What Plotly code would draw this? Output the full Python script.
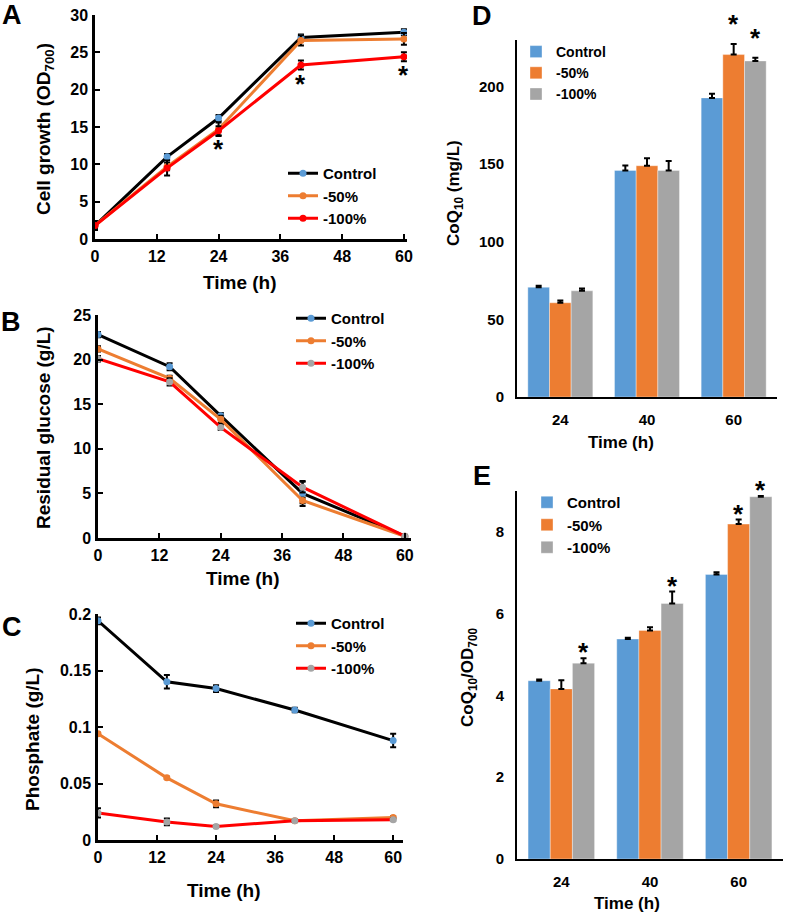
import plotly.graph_objects as go

W, H = 794, 920

# ---------------- data ----------------
series_names = ["Control", "-50%", "-100%"]
times = [0, 14, 24, 40, 60]
time_ticks = [0, 12, 24, 36, 48, 60]

growth_ctrl = [1.8, 11.0, 16.2, 27.0, 27.7]
growth_ctrl_err = [0.6, 0.4, 0.4, 0.4, 0.4]
growth_50 = [1.8, 9.7, 14.7, 26.6, 26.8]
growth_50_err = [0.3, 0.5, 0.9, 0.7, 0.8]
growth_100 = [1.8, 9.5, 14.5, 23.3, 24.4]
growth_100_err = [0.3, 1.0, 0.6, 0.6, 0.6]
growth_sig_100 = [False, False, True, True, True]

glucose_ctrl = [22.8, 19.2, 13.7, 5.0, 0.2]
glucose_ctrl_err = [0.3, 0.4, 0.3, 1.4, 0.1]
glucose_50 = [21.2, 17.9, 13.3, 4.2, 0.2]
glucose_50_err = [0.3, 0.3, 0.4, 0.3, 0.1]
glucose_100 = [20.1, 17.5, 12.4, 5.7, 0.2]
glucose_100_err = [0.3, 0.4, 0.3, 0.6, 0.1]

phos_ctrl = [0.194, 0.140, 0.134, 0.115, 0.088]
phos_ctrl_err = [0.003, 0.006, 0.003, 0.002, 0.006]
phos_50 = [0.094, 0.055, 0.032, 0.017, 0.020]
phos_50_err = [0.001, 0.001, 0.003, 0.001, 0.001]
phos_100 = [0.024, 0.016, 0.012, 0.017, 0.018]
phos_100_err = [0.004, 0.003, 0.001, 0.001, 0.001]

bar_cats = ["24", "40", "60"]
coq_ctrl = [70.7, 146.0, 192.7]
coq_ctrl_err = [1.0, 3.2, 2.6]
coq_50 = [60.7, 149.0, 220.6]
coq_50_err = [1.5, 4.8, 6.8]
coq_100 = [68.4, 146.0, 216.5]
coq_100_err = [1.5, 6.0, 2.0]
coq_sig = [[False, False, False], [False, False, True], [False, False, True]]

spec_ctrl = [4.36, 5.38, 6.96]
spec_ctrl_err = [0.03, 0.03, 0.05]
spec_50 = [4.16, 5.59, 8.19]
spec_50_err = [0.21, 0.08, 0.11]
spec_100 = [4.79, 6.25, 8.86]
spec_100_err = [0.12, 0.29, 0.02]
spec_sig = [[False, False, False], [False, False, True], [True, True, True]]

# ---------------- styles ----------------
FONT = "Liberation Sans, Arial, sans-serif"
C_BLUE = "#5B9BD5"
C_ORANGE = "#ED7D31"
C_GREY = "#A5A5A5"
C_RED = "#FF0000"

fig = go.Figure()


def px_x(p):
    return p / W


def px_y(p):
    return 1 - p / H


def line_trace(x, y, err, name, lcolor, mcolor, xa, ya, legend, symbol="circle"):
    return go.Scatter(
        x=x, y=y, name=name, mode="lines+markers",
        line=dict(color=lcolor, width=3),
        marker=dict(color=mcolor, size=7, symbol=symbol),
        error_y=dict(type="data", array=err, color="black", thickness=2, width=3),
        xaxis=xa, yaxis=ya, legend=legend,
    )


# Panel A
fig.add_trace(line_trace(times, growth_ctrl, growth_ctrl_err, series_names[0], "black", C_BLUE, "x", "y", "legend"))
fig.add_trace(line_trace(times, growth_50, growth_50_err, series_names[1], C_ORANGE, C_ORANGE, "x", "y", "legend"))
fig.add_trace(line_trace(times, growth_100, growth_100_err, series_names[2], C_RED, C_RED, "x", "y", "legend"))
# Panel B
fig.add_trace(line_trace(times, glucose_ctrl, glucose_ctrl_err, series_names[0], "black", C_BLUE, "x2", "y2", "legend2"))
fig.add_trace(line_trace(times, glucose_50, glucose_50_err, series_names[1], C_ORANGE, C_ORANGE, "x2", "y2", "legend2"))
fig.add_trace(line_trace(times, glucose_100, glucose_100_err, series_names[2], C_RED, C_GREY, "x2", "y2", "legend2"))
# Panel C
fig.add_trace(line_trace(times, phos_ctrl, phos_ctrl_err, series_names[0], "black", C_BLUE, "x3", "y3", "legend3"))
fig.add_trace(line_trace(times, phos_50, phos_50_err, series_names[1], C_ORANGE, C_ORANGE, "x3", "y3", "legend3"))
fig.add_trace(line_trace(times, phos_100, phos_100_err, series_names[2], C_RED, C_GREY, "x3", "y3", "legend3"))

bar_colors = [C_BLUE, C_ORANGE, C_GREY]
coq_vals = [coq_ctrl, coq_50, coq_100]
coq_errs = [coq_ctrl_err, coq_50_err, coq_100_err]
spec_vals = [spec_ctrl, spec_50, spec_100]
spec_errs = [spec_ctrl_err, spec_50_err, spec_100_err]

for i in range(3):
    fig.add_trace(go.Bar(
        x=bar_cats, y=coq_vals[i], name=series_names[i],
        marker=dict(color=bar_colors[i], line=dict(color="rgba(255,255,255,0.6)", width=0.6)),
        error_y=dict(type="data", array=coq_errs[i], arrayminus=[0] * 3, symmetric=False,
                     color="black", thickness=2, width=3),
        xaxis="x4", yaxis="y4", legend="legend4",
    ))
for i in range(3):
    fig.add_trace(go.Bar(
        x=bar_cats, y=spec_vals[i], name=series_names[i],
        marker=dict(color=bar_colors[i], line=dict(color="rgba(255,255,255,0.6)", width=0.6)),
        error_y=dict(type="data", array=spec_errs[i], arrayminus=[0] * 3, symmetric=False,
                     color="black", thickness=2, width=3),
        xaxis="x5", yaxis="y5", legend="legend5",
    ))

annotations = []

# significance stars
for t, v, e, s in zip(times, growth_100, growth_100_err, growth_sig_100):
    if s:
        annotations.append(dict(x=t, y=v - e, xref="x", yref="y", text="<b>*</b>", showarrow=False,
                                yanchor="middle", yshift=-14, font=dict(size=26)))
BARGAP = 0.25
bw = (1 - BARGAP) / 3
for i in range(3):
    for j in range(3):
        if coq_sig[i][j]:
            annotations.append(dict(x=j + (i - 1) * bw, y=coq_vals[i][j] + coq_errs[i][j], xref="x4", yref="y4",
                                    text="<b>*</b>", showarrow=False, yanchor="middle", yshift=20,
                                    font=dict(size=26)))
        if spec_sig[i][j]:
            annotations.append(dict(x=j + (i - 1) * bw, y=spec_vals[i][j] + spec_errs[i][j], xref="x5", yref="y5",
                                    text="<b>*</b>", showarrow=False, yanchor="middle", yshift=6,
                                    font=dict(size=26)))

# axis titles and panel letters (pixel placement)
def text_px(txt, x, y, size, angle=0):
    annotations.append(dict(x=px_x(x), y=px_y(y), xref="paper", yref="paper", text="<b>" + txt + "</b>",
                            showarrow=False, textangle=angle, xanchor="center", yanchor="middle",
                            font=dict(size=size)))

text_px("Cell growth (OD<sub>700</sub>)", 45, 129, 19, -90)
text_px("Time (h)", 240, 282, 19)
text_px("Residual glucose (g/L)", 43, 428, 19, -90)
text_px("Time (h)", 243, 578, 19)
text_px("Phosphate (g/L)", 32, 739, 19, -90)
text_px("Time (h)", 224, 890, 19)
text_px("CoQ<sub>10</sub> (mg/L)", 455, 193, 17, -90)
text_px("Time (h)", 621, 443, 17)
text_px("CoQ<sub>10</sub>/OD<sub>700</sub>", 469, 677, 17, -90)
text_px("Time (h)", 627, 903, 17)
for letter, x, y in [("A", 12, 15), ("B", 11, 322), ("C", 12, 627), ("D", 482, 16), ("E", 482, 476)]:
    text_px(letter, x, y, 27)

line_axis = dict(showline=True, linecolor="black", linewidth=2.5, ticks="inside", ticklen=5, tickwidth=2,
                 tickcolor="black", showgrid=False, zeroline=False, tickfont=dict(size=16),
                 automargin=False)
bar_axis = dict(showline=True, linecolor="black", linewidth=2, ticks="", showgrid=False, zeroline=False,
                tickfont=dict(size=15), automargin=False)

def legend_cfg(x, y, size):
    return dict(x=px_x(x), y=px_y(y), xanchor="left", yanchor="top", bgcolor="rgba(0,0,0,0)",
                font=dict(size=size, family=FONT, weight="bold", color="black"), tracegroupgap=0,
                itemwidth=30)

fig.update_layout(
    width=W, height=H, margin=dict(l=0, r=0, t=0, b=0),
    paper_bgcolor="white", plot_bgcolor="white",
    font=dict(family=FONT, weight="bold", color="black"),
    barmode="group", bargap=BARGAP, bargroupgap=0,
    annotations=annotations,
    xaxis=dict(domain=[px_x(95), px_x(407)], anchor="y", range=[0, 60.6], tickvals=time_ticks,
               ticklabelstandoff=1, **line_axis),
    yaxis=dict(domain=[px_y(239), px_y(15)], anchor="x", range=[0, 30], dtick=5, ticklabelstandoff=1, **line_axis),
    xaxis2=dict(domain=[px_x(98), px_x(411)], anchor="y2", range=[0, 61.2], tickvals=time_ticks,
                ticklabelstandoff=1, **line_axis),
    yaxis2=dict(domain=[px_y(538), px_y(315)], anchor="x2", range=[0, 25], dtick=5, ticklabelstandoff=1, **line_axis),
    xaxis3=dict(domain=[px_x(98), px_x(403)], anchor="y3", range=[0, 62], tickvals=time_ticks,
                ticklabelstandoff=1, **line_axis),
    yaxis3=dict(domain=[px_y(840), px_y(614)], anchor="x3", range=[0, 0.2], dtick=0.05, ticklabelstandoff=1,
                **line_axis),
    xaxis4=dict(domain=[px_x(517), px_x(777)], anchor="y4", type="category", range=[-0.5, 2.5],
                ticklabelstandoff=8, **bar_axis),
    yaxis4=dict(domain=[px_y(397), px_y(40)], anchor="x4", range=[0, 230], dtick=50, ticklabelstandoff=8,
                **bar_axis),
    xaxis5=dict(domain=[px_x(517), px_x(783)], anchor="y5", type="category", range=[-0.5, 2.5],
                ticklabelstandoff=8, **bar_axis),
    yaxis5=dict(domain=[px_y(859), px_y(491)], anchor="x5", range=[0, 9], tickvals=[0, 2, 4, 6, 8],
                ticklabelstandoff=8, **bar_axis),
    legend=legend_cfg(283, 157, 15),
    legend2=legend_cfg(291, 302, 15),
    legend3=legend_cfg(291, 607, 15),
    legend4=legend_cfg(516, 36, 14),
    legend5=legend_cfg(527, 486, 15),
    showlegend=True,
)

# remove the default page margin so the figure sits at the window's top-left corner
fig.write_html("out.html", config={"displayModeBar": False},
               post_script="document.body.style.margin='0px';")
